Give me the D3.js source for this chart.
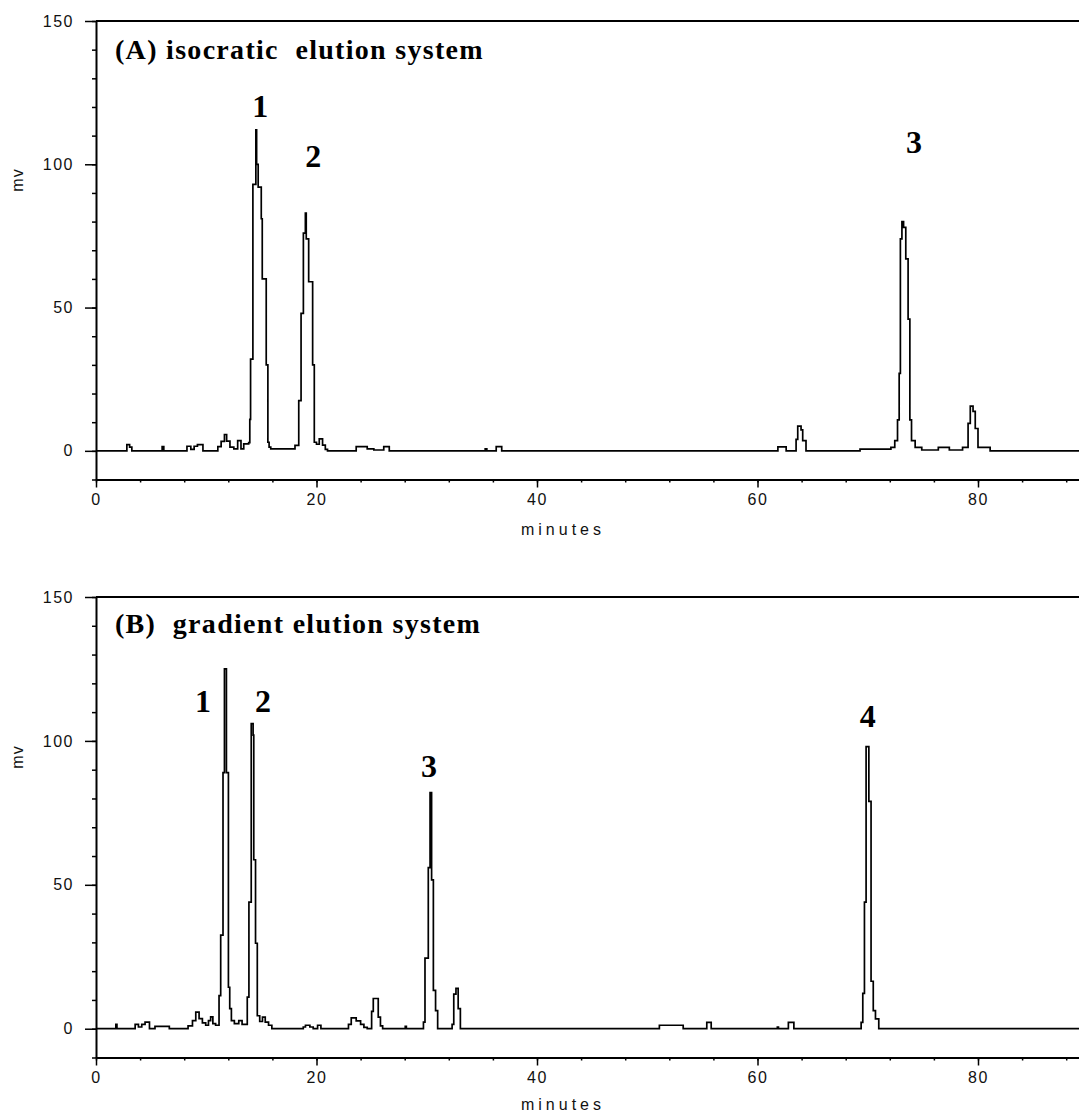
<!DOCTYPE html>
<html>
<head>
<meta charset="utf-8">
<script src="https://cdn.jsdelivr.net/npm/d3@7/dist/d3.min.js"></script>
<style>
  html, body { margin: 0; padding: 0; background: #fff; }
  svg { display: block; }
  .tick text { font-family: "Liberation Sans", Arial, sans-serif; font-size: 16px; fill: #111; letter-spacing: 1.5px; }
  .axis path, .axis line { stroke: #000; }
  .title { font-family: "Liberation Serif", "Times New Roman", serif; font-weight: bold; font-size: 28px; letter-spacing: 1.3px; white-space: pre; }
  .peak { font-family: "Liberation Serif", "Times New Roman", serif; font-weight: bold; font-size: 32px; }
  .axlabel { font-family: "Liberation Sans", Arial, sans-serif; font-size: 16px; fill: #111; }
</style>
</head>
<body>
<svg id="chart" width="1079" height="1115"></svg>
<script>
// Chromatogram A: isocratic elution (time in minutes, detector signal in mV)
const timeA = [0, 2.8, 3.05, 3.25, 6.0, 6.15, 8.25, 8.6, 8.9, 9.2, 9.7,
  11.05, 11.35, 11.65, 11.85, 12.15, 12.5, 12.85, 13.15, 13.4, 13.85,
  13.95, 14.02, 14.23, 14.5, 14.57, 14.71, 14.99, 15.08, 15.44, 15.59, 15.7, 15.85,
  18.05, 18.39, 18.6, 18.81, 18.99, 19.07, 19.29, 19.65, 19.8, 20.0, 20.25, 20.55, 20.8, 21.0,
  23.6, 24.6, 25.2, 26.1, 26.6, 35.3, 35.45, 36.3, 36.8,
  61.85, 62.6, 63.5, 63.65, 63.95, 64.1, 64.4, 69.3,
  72.1, 72.45, 72.7, 72.85, 72.96, 73.1, 73.25, 73.45, 73.66, 73.82, 73.97, 74.3, 74.9,
  76.4, 77.4, 78.6, 79.1, 79.3, 79.55, 79.75, 80.0, 81.1, 90];
const signalA = [0, 2.2, 1.3, 0, 1.5, 0, 1.6, 0.5, 1.6, 2.2, 0,
  1.5, 3.3, 5.7, 3.4, 1.3, 0.7, 3.6, 0.7, 2.4, 2.9,
  11, 32, 93, 112, 100, 92, 81, 60, 30, 3, 1.3, 0.7,
  1.9, 17.5, 48, 76, 83, 74, 59, 30, 3, 2.3, 4.2, 2, 0.5, 0,
  1.5, 0.7, 0.3, 1.5, 0, 0.7, 0, 1.5, 0,
  1.4, 0, 4, 8.6, 7.3, 3.6, 0, 0.6,
  1.2, 3.6, 10.8, 27, 74, 80, 78, 67, 46, 10.8, 3.6, 1.2, 0.3,
  1.2, 0.3, 1.2, 9.6, 15.6, 13.8, 7.8, 1.2, 0, 0];

// Chromatogram B: gradient elution
const timeB = [0, 1.8, 1.9, 3.55, 3.85, 4.15, 4.45, 4.85, 5.35, 6.65,
  8.35, 8.75, 9.05, 9.35, 9.65, 9.95, 10.2, 10.4, 10.6, 10.85,
  11.16, 11.31, 11.52, 11.65, 11.83, 12.01, 12.13, 12.28, 12.55, 12.95, 13.25,
  13.72, 13.87, 14.08, 14.25, 14.31, 14.47, 14.63, 14.85, 15.1, 15.35, 15.65, 15.95,
  18.8, 19.0, 19.4, 19.7, 20.1, 20.4,
  22.9, 23.15, 23.6, 24.0, 24.3, 24.6, 25.0, 25.15, 25.6, 25.8, 26.0, 28.05, 28.15,
  29.7, 29.84, 30.14, 30.3, 30.44, 30.6, 30.8, 30.99,
  32.3, 32.45, 32.65, 32.85, 33.05,
  51.1, 53.26, 55.4, 55.8, 61.8, 61.9, 62.8, 63.3,
  69.4, 69.55, 69.7, 69.85, 70.1, 70.3, 70.5, 70.7, 71.0, 90];
const signalB = [0, 1.5, 0, 1.5, 0.6, 1.5, 2.3, 0, 0.8, 0,
  1, 2.8, 5.8, 3.5, 2, 1.2, 2.8, 4.1, 1.8, 1.2,
  11.5, 32.5, 89, 125, 89, 14.4, 7, 2.8, 1.8, 2.8, 1.5,
  11, 44, 106, 102, 58.7, 29.7, 4.5, 2.5, 4, 2.3, 1.2, 0,
  0.6, 1.2, 0.6, 0, 1.2, 0,
  1.5, 3.8, 2.7, 1.5, 0.5, 0, 6, 10.5, 4, 1, 0, 0.8, 0,
  2.3, 24.5, 56, 82, 51.7, 13.3, 6.3, 0,
  1.5, 12, 14, 7, 0,
  1.2, 0, 2.2, 0, 0.6, 0, 2.2, 0,
  2.2, 12.3, 44, 98, 79, 16.5, 6.3, 3.4, 0, 0];

// Panel headings and numbered peak annotations (anchored in data units)
const panelTitles = ["(A) isocratic  elution system", "(B)  gradient elution system"];
const peakNamesA = ["1", "2", "3"];
const peakTimesA = [14.9, 19.7, 74.2];
const peakLevelsA = [116.5, 99, 104];
const peakNamesB = ["1", "2", "3", "4"];
const peakTimesB = [9.7, 15.15, 30.2, 70.0];
const peakLevelsB = [110, 110, 87.5, 105];

// Axis ticks
const xMajorTicks = [0, 20, 40, 60, 80];
const xMinorTicks = d3.range(0, 92, 4);
const yMajorTicks = [0, 50, 100, 150];
const yMinorTicks = d3.range(-10, 151, 10);
const xDomain = [0, 90];
const yDomain = [-10, 150];
const xTitle = "minutes";
const yTitle = "mv";

const svg = d3.select("#chart");

const panels = [
  { time: timeA, signal: signalA, title: panelTitles[0], names: peakNamesA, pt: peakTimesA, pl: peakLevelsA,
    yTop: 21, yBottom: 479.5, titleY: 59, xTitleY: 535, yTitleY: 180 },
  { time: timeB, signal: signalB, title: panelTitles[1], names: peakNamesB, pt: peakTimesB, pl: peakLevelsB,
    yTop: 597, yBottom: 1057.5, titleY: 633, xTitleY: 1110, yTitleY: 757 }
];

const x = d3.scaleLinear().domain(xDomain).range([96, 96 + 90 * 11.025]);

panels.forEach(p => {
  const y = d3.scaleLinear().domain(yDomain).range([p.yBottom, p.yTop]);
  const g = svg.append("g");

  // top frame line at 150 mV
  g.append("line")
    .attr("x1", x(0)).attr("x2", 1079)
    .attr("y1", y(150)).attr("y2", y(150))
    .attr("stroke", "#000").attr("stroke-width", 2);

  // y axis: minor and major ticks
  g.append("g").attr("class", "axis")
    .attr("transform", `translate(${x(0)},0)`)
    .call(d3.axisLeft(y).tickValues(yMinorTicks).tickSize(4).tickFormat(""))
    .call(s => s.select(".domain").remove())
    .selectAll("line").attr("stroke-width", 1.5);
  const ya = g.append("g").attr("class", "axis")
    .attr("transform", `translate(${x(0)},0)`)
    .call(d3.axisLeft(y).tickValues(yMajorTicks).tickSize(11).tickSizeOuter(0).tickPadding(11));
  ya.select(".domain").attr("stroke-width", 2);
  ya.selectAll("line").attr("stroke-width", 1.5);

  // x axis: minor and major ticks
  g.append("g").attr("class", "axis")
    .attr("transform", `translate(0,${y(-10)})`)
    .call(d3.axisBottom(x).tickValues(xMinorTicks).tickSize(3).tickFormat(""))
    .call(s => s.select(".domain").remove())
    .selectAll("line").attr("stroke-width", 1.5);
  const xa = g.append("g").attr("class", "axis")
    .attr("transform", `translate(0,${y(-10)})`)
    .call(d3.axisBottom(x).tickValues(xMajorTicks).tickSize(8).tickSizeOuter(0).tickPadding(6));
  xa.select(".domain").attr("stroke-width", 2);
  xa.selectAll("line").attr("stroke-width", 1.5);

  // chromatogram trace
  const line = d3.line()
    .x((d, i) => x(p.time[i]))
    .y((d, i) => y(p.signal[i]))
    .curve(d3.curveStepAfter);
  g.append("path")
    .attr("d", line(p.time))
    .attr("fill", "none")
    .attr("stroke", "#000")
    .attr("stroke-width", 1.7);

  // panel heading
  g.append("text").attr("class", "title")
    .attr("x", 115).attr("y", p.titleY)
    .text(p.title);

  // peak numbers
  g.selectAll("text.peak").data(p.names).enter().append("text")
    .attr("class", "peak")
    .attr("text-anchor", "middle")
    .attr("x", (d, i) => x(p.pt[i]))
    .attr("y", (d, i) => y(p.pl[i]))
    .text(d => d);

  // axis titles
  g.append("text").attr("class", "axlabel")
    .attr("x", 563).attr("y", p.xTitleY)
    .attr("text-anchor", "middle")
    .style("letter-spacing", "4px")
    .text(xTitle);
  g.append("text").attr("class", "axlabel")
    .attr("transform", `translate(17,${p.yTitleY}) rotate(-90)`)
    .attr("text-anchor", "middle")
    .attr("dominant-baseline", "central")
    .style("letter-spacing", "1px")
    .text(yTitle);
});
</script>
</body>
</html>
